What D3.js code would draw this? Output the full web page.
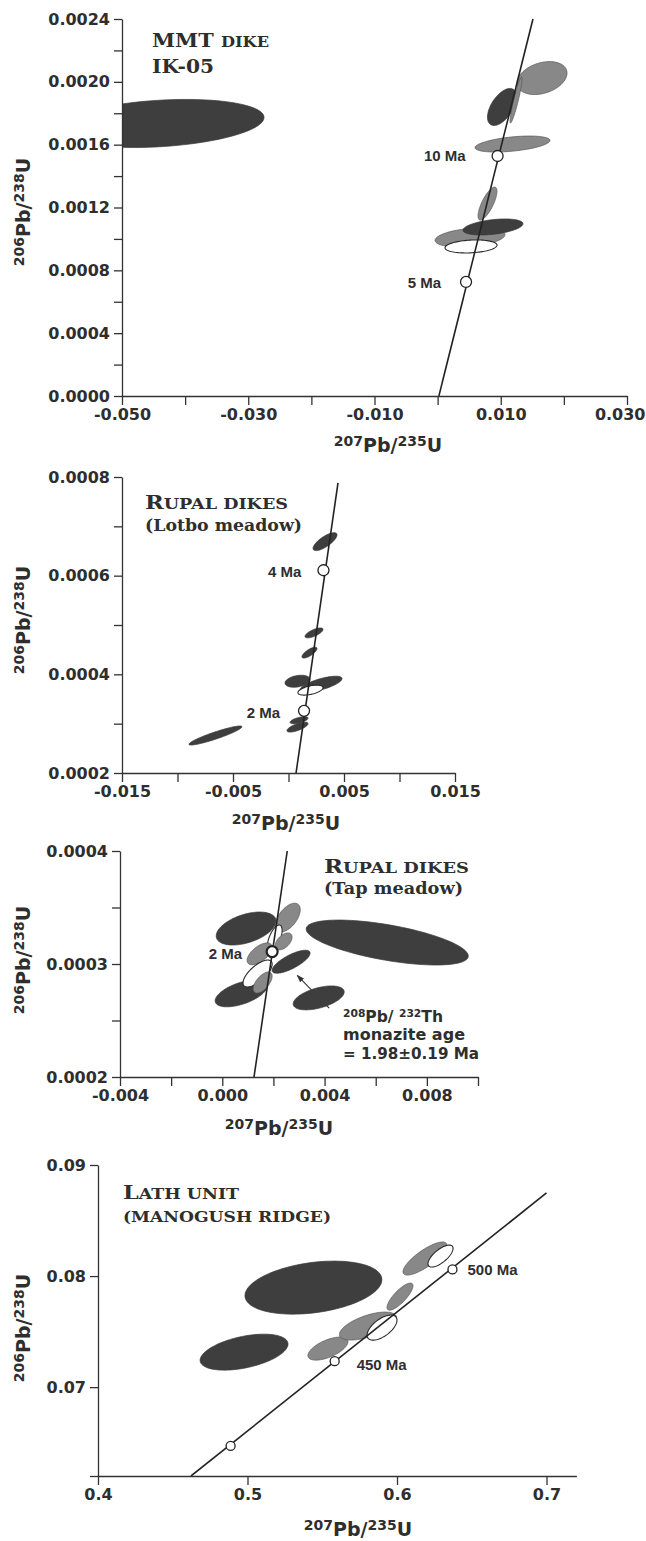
<!DOCTYPE html>
<html>
<head>
<meta charset="utf-8">
<script src="https://cdn.jsdelivr.net/npm/d3@7"></script>
<style>
  body { margin: 0; background: #fff; }
  svg text { fill: #2e2e2e; }
</style>
</head>
<body>
<svg id="chart" width="646" height="1541"></svg>
<script>
// ---- values ----
// error ellipses: [207Pb/235U, 206Pb/238U, half-width x, half-width y, rho, tone]
// tone: d = dark, g = grey, w = open

// MMT dike IK-05
const mmtEllipses = [
  [-0.044, 0.001735, 0.0165, 0.000153, 0.25, "d"],
  [0.01654, 0.002024, 0.00396, 0.000105, 0.3, "g"],
  [0.0102, 0.00184, 0.0023, 0.000118, 0.55, "d"],
  [0.01242, 0.001884, 0.00095, 0.000146, 0.92, "g"],
  [0.01186, 0.001604, 0.00594, 0.000051, 0.45, "g"],
  [0.0079, 0.001225, 0.0015, 0.000105, 0.75, "g"],
  [0.00513, 0.001009, 0.00554, 0.0000605, 0.3, "g"],
  [0.00877, 0.001076, 0.00475, 0.000051, 0.4, "d"],
  [0.00529, 0.000952, 0.00412, 0.0000414, 0.2, "w"]
];
const mmtConcordia = [[0.0002, 0], [0.0151, 0.0024]];
const mmtAges = [[0.0095, 0.001528], [0.0045, 0.000726]];
const mmtAgeLabels = ["10 Ma", "5 Ma"];
const mmtXTicks = [-0.05, -0.04, -0.03, -0.02, -0.01, 0, 0.01, 0.02, 0.03];
const mmtXLabels = ["-0.050", "", "-0.030", "", "-0.010", "", "0.010", "", "0.030"];
const mmtYTicks = [0, 0.0002, 0.0004, 0.0006, 0.0008, 0.001, 0.0012, 0.0014, 0.0016, 0.0018, 0.002, 0.0022, 0.0024];
const mmtYLabels = ["0.0000", "", "0.0004", "", "0.0008", "", "0.0012", "", "0.0016", "", "0.0020", "", "0.0024"];

// Rupal dikes, Lotbo meadow
const lotboEllipses = [
  [0.00329, 0.000669, 0.00108, 0.0000182, 0.75, "d"],
  [0.0023, 0.000484, 0.00081, 0.0000101, 0.7, "d"],
  [0.00189, 0.000444, 0.00068, 0.0000111, 0.75, "d"],
  [0.00081, 0.000386, 0.00113, 0.0000122, 0.3, "d"],
  [0.00293, 0.00038, 0.00189, 0.0000162, 0.7, "d"],
  [0.00198, 0.000368, 0.00113, 0.0000101, 0.5, "w"],
  [0.00095, 0.000307, 0.00081, 0.0000071, 0.6, "d"],
  [0.00081, 0.000293, 0.00095, 0.0000101, 0.7, "d"],
  [-0.00658, 0.000276, 0.00239, 0.0000193, 0.92, "d"]
];
const lotboConcordia = [[0.00068, 0.0002], [0.00446, 0.000788]];
const lotboAges = [[0.00315, 0.000611], [0.0014, 0.000326]];
const lotboAgeLabels = ["4 Ma", "2 Ma"];
const lotboXTicks = [-0.015, -0.01, -0.005, 0, 0.005, 0.01, 0.015];
const lotboXLabels = ["-0.015", "", "-0.005", "", "0.005", "", "0.015"];
const lotboYTicks = [0.0002, 0.0003, 0.0004, 0.0005, 0.0006, 0.0007, 0.0008];
const lotboYLabels = ["0.0002", "", "0.0004", "", "0.0006", "", "0.0008"];

// Rupal dikes, Tap meadow
const tapEllipses = [
  [0.000932, 0.0003314, 0.00117, 0.0000146, 0.45, "d"],
  [0.00645, 0.000319, 0.00317, 0.0000199, -0.6, "d"],
  [0.00377, 0.00027, 0.000998, 0.0000106, 0.5, "d"],
  [0.00074, 0.000274, 0.00102, 0.0000119, 0.55, "d"],
  [0.00256, 0.000341, 0.00049, 0.0000128, 0.55, "g"],
  [0.00205, 0.0003226, 0.00029, 0.0000119, 0.6, "w"],
  [0.00146, 0.000309, 0.00049, 0.0000097, 0.6, "g"],
  [0.0024, 0.00032, 0.00033, 0.0000075, 0.5, "g"],
  [0.00269, 0.000302, 0.000744, 0.0000102, 0.75, "d"],
  [0.00138, 0.0002916, 0.00057, 0.0000119, 0.7, "w"],
  [0.00158, 0.0002836, 0.00037, 0.0000093, 0.6, "g"]
];
const tapConcordia = [[0.00124, 0.0002], [0.00254, 0.0004]];
const tapAges = [[0.00195, 0.000311]];
const tapAgeLabels = ["2 Ma"];
const tapArrow = [[0.00418, 0.000261], [0.00293, 0.00029]];
const tapXTicks = [-0.004, -0.002, 0, 0.002, 0.004, 0.006, 0.008, 0.01];
const tapXLabels = ["-0.004", "", "0.000", "", "0.004", "", "0.008", ""];
const tapYTicks = [0.0002, 0.00025, 0.0003, 0.00035, 0.0004];
const tapYLabels = ["0.0002", "", "0.0003", "", "0.0004"];

// Lath unit, Manogush ridge
const lathEllipses = [
  [0.5441, 0.07896, 0.0458, 0.00239, 0.3, "d"],
  [0.4977, 0.07315, 0.0294, 0.00162, 0.45, "d"],
  [0.5538, 0.07347, 0.0134, 0.00104, 0.6, "g"],
  [0.5806, 0.0755, 0.0191, 0.00126, 0.6, "g"],
  [0.59, 0.07536, 0.01, 0.00113, 0.6, "w"],
  [0.602, 0.07815, 0.0087, 0.00122, 0.8, "g"],
  [0.6187, 0.08158, 0.0147, 0.00149, 0.8, "g"],
  [0.6291, 0.0818, 0.0084, 0.00099, 0.7, "w"]
];
const lathConcordia = [[0.4622, 0.062], [0.7, 0.08748]];
const lathAges = [[0.4887, 0.06471], [0.5583, 0.07234], [0.6371, 0.0806]];
const lathAgeLabels = ["", "450 Ma", "500 Ma"];
const lathXTicks = [0.4, 0.5, 0.6, 0.7];
const lathXLabels = ["0.4", "0.5", "0.6", "0.7"];
const lathYTicks = [0.062, 0.07, 0.08, 0.09];
const lathYLabels = ["", "0.07", "0.08", "0.09"];

// ---- drawing ----
const svg = d3.select("#chart");
const defs = svg.append("defs");
const toneFill = { d: "#3e3e3e", g: "#888888", w: "#fdfdfd" };
const toneStroke = { d: "#383838", g: "#585858", w: "#2a2a2a" };
const sansBold = "'DejaVu Sans', sans-serif";
const serif = "'DejaVu Serif', serif";

defs.append("marker")
  .attr("id", "arrowHead")
  .attr("viewBox", "0 0 10 10")
  .attr("refX", 9).attr("refY", 5)
  .attr("markerWidth", 7).attr("markerHeight", 7)
  .attr("orient", "auto")
  .append("path").attr("d", "M0,1.5L10,5L0,8.5Z").attr("fill", "#333");

function ellipsePath(e, x, y) {
  const [cx, cy, sx, sy, rho] = e;
  const k = Math.sqrt(1 - rho * rho);
  const pts = d3.range(90).map(i => {
    const t = i / 90 * 2 * Math.PI;
    return [x(cx + sx * Math.cos(t)), y(cy + sy * (rho * Math.cos(t) + k * Math.sin(t)))];
  });
  return d3.line().curve(d3.curveLinearClosed)(pts);
}

// text with mixed sizes (raised isotope numbers or small caps)
function richText(g, parts, opts) {
  const t = g.append("text")
    .attr("x", opts.x).attr("y", opts.y)
    .attr("font-family", opts.font)
    .attr("font-weight", "bold")
    .attr("text-anchor", opts.anchor || "start");
  if (opts.rotate) t.attr("transform", `rotate(-90,${opts.x},${opts.y})`);
  if (opts.width) t.attr("textLength", opts.width).attr("lengthAdjust", "spacingAndGlyphs");
  let shift = 0;
  parts.forEach(p => {
    const s = p[2] || 0;
    t.append("tspan").attr("font-size", p[1]).attr("dy", s - shift).text(p[0]);
    shift = s;
  });
  return t;
}

const ratioX = [["207", 14, -6], ["Pb/", 19, 0], ["235", 14, -6], ["U", 19, 0]];
const ratioY = [["206", 14, -6], ["Pb/", 19, 0], ["238", 14, -6], ["U", 19, 0]];

function panel(cfg) {
  const x = d3.scaleLinear().domain(cfg.xDomain).range(cfg.xRange);
  const y = d3.scaleLinear().domain(cfg.yDomain).range(cfg.yRange);
  const g = svg.append("g");

  // plot area clip: marks stop at the axes
  const clipId = "clip-" + cfg.id;
  defs.append("clipPath").attr("id", clipId)
    .append("rect")
    .attr("x", cfg.xRange[0]).attr("y", cfg.yRange[1] - 10)
    .attr("width", cfg.xRange[1] - cfg.xRange[0] + 20)
    .attr("height", cfg.yRange[0] - cfg.yRange[1] + 10);

  const plot = g.append("g").attr("clip-path", `url(#${clipId})`);

  if (cfg.arrow) {
    plot.append("line")
      .attr("x1", x(cfg.arrow[0][0])).attr("y1", y(cfg.arrow[0][1]))
      .attr("x2", x(cfg.arrow[1][0])).attr("y2", y(cfg.arrow[1][1]))
      .attr("stroke", "#333").attr("stroke-width", 1.1)
      .attr("marker-end", "url(#arrowHead)");
  }

  plot.selectAll("path.ell").data(cfg.ellipses).enter()
    .append("path").attr("class", "ell")
    .attr("d", d => ellipsePath(d, x, y))
    .attr("fill", d => toneFill[d[5]])
    .attr("stroke", d => toneStroke[d[5]])
    .attr("stroke-width", d => d[5] === "w" ? 1.1 : 0.7);

  plot.append("path")
    .attr("d", d3.line().x(d => x(d[0])).y(d => y(d[1]))(cfg.concordia))
    .attr("fill", "none").attr("stroke", "#222").attr("stroke-width", 1.6);

  plot.selectAll("circle.age").data(cfg.ages).enter()
    .append("circle").attr("class", "age")
    .attr("cx", d => x(d[0])).attr("cy", d => y(d[1]))
    .attr("r", cfg.markerR)
    .attr("fill", "#fff").attr("stroke", "#222").attr("stroke-width", cfg.markerW);

  g.selectAll("text.agelbl").data(cfg.ages).enter()
    .append("text").attr("class", "agelbl")
    .attr("x", (d, i) => x(d[0]) + cfg.labelOffsets[i][0])
    .attr("y", (d, i) => y(d[1]) + cfg.labelOffsets[i][1])
    .attr("text-anchor", (d, i) => cfg.labelOffsets[i][0] < 0 ? "end" : "start")
    .attr("font-family", "'Liberation Sans', Arial, sans-serif")
    .attr("font-weight", "bold").attr("font-size", 15)
    .text((d, i) => cfg.ageLabels[i]);

  const yAxis = d3.axisLeft(y).tickValues(cfg.yTicks)
    .tickFormat((d, i) => cfg.yLabels[i])
    .tickSize(8).tickSizeOuter(0).tickPadding(4);
  const xAxis = d3.axisBottom(x).tickValues(cfg.xTicks)
    .tickFormat((d, i) => cfg.xLabels[i])
    .tickSize(9).tickSizeOuter(0).tickPadding(4);

  const ya = g.append("g").attr("transform", `translate(${cfg.xRange[0]},0)`).call(yAxis);
  const xa = g.append("g").attr("transform", `translate(0,${cfg.yRange[0]})`).call(xAxis);
  [ya, xa].forEach(a => {
    a.selectAll("path, line").attr("stroke", "#333").attr("stroke-width", 1.3);
    a.selectAll("text").attr("font-family", sansBold).attr("font-weight", "bold")
      .attr("font-size", 16).attr("fill", "#333");
  });
  // keep the last x label inside the page edge
  if (cfg.lastLabelEnd) {
    xa.selectAll(".tick:last-of-type text").attr("text-anchor", "end").attr("x", cfg.lastLabelEnd);
  }

  // axis titles
  richText(g, ratioX, { x: cfg.xTitle[0], y: cfg.xTitle[1], font: sansBold, anchor: "middle" });
  richText(g, ratioY, { x: cfg.yTitle[0], y: cfg.yTitle[1], font: sansBold, anchor: "middle", rotate: true });

  // sample names
  cfg.titles.forEach(tt => richText(g, tt.parts, { x: tt.x, y: tt.y, font: serif, width: tt.w }));

  return { g, x, y };
}

panel({
  id: "mmt", xDomain: [-0.05, 0.03], xRange: [122, 627], yDomain: [0, 0.0024], yRange: [396, 19],
  ellipses: mmtEllipses, concordia: mmtConcordia, ages: mmtAges, ageLabels: mmtAgeLabels,
  labelOffsets: [[-32, 5], [-25, 6]], markerR: 5.5, markerW: 1.3, lastLabelEnd: 18,
  xTicks: mmtXTicks, xLabels: mmtXLabels, yTicks: mmtYTicks, yLabels: mmtYLabels,
  xTitle: [388, 452], yTitle: [30, 212],
  titles: [
    { parts: [["MMT ", 18], ["DIKE", 14]], x: 152, y: 47, w: 117 },
    { parts: [["IK-05", 18]], x: 152, y: 73, w: 62 }
  ]
});

panel({
  id: "lotbo", xDomain: [-0.015, 0.015], xRange: [122, 455], yDomain: [0.0002, 0.0008], yRange: [773, 477],
  ellipses: lotboEllipses, concordia: lotboConcordia, ages: lotboAges, ageLabels: lotboAgeLabels,
  labelOffsets: [[-22, 7], [-24, 7]], markerR: 5.5, markerW: 1.3,
  xTicks: lotboXTicks, xLabels: lotboXLabels, yTicks: lotboYTicks, yLabels: lotboYLabels,
  xTitle: [286, 830], yTitle: [30, 620],
  titles: [
    { parts: [["R", 18], ["UPAL DIKES", 14]], x: 145, y: 509, w: 143 },
    { parts: [["(Lotbo meadow)", 16]], x: 145, y: 531, w: 157 }
  ]
});

const tap = panel({
  id: "tap", xDomain: [-0.004, 0.010], xRange: [120, 478], yDomain: [0.0002, 0.0004], yRange: [1077, 851],
  ellipses: tapEllipses, concordia: tapConcordia, ages: tapAges, ageLabels: tapAgeLabels,
  labelOffsets: [[-30, 7]], markerR: 5.5, markerW: 2.2, arrow: tapArrow,
  xTicks: tapXTicks, xLabels: tapXLabels, yTicks: tapYTicks, yLabels: tapYLabels,
  xTitle: [279, 1135], yTitle: [30, 960],
  titles: [
    { parts: [["R", 18], ["UPAL DIKES", 14]], x: 324, y: 873, w: 145 },
    { parts: [["(Tap meadow)", 16]], x: 324, y: 894, w: 139 }
  ]
});

// monazite note
richText(tap.g, [["208", 11, -5], ["Pb/ ", 16, 0], ["232", 11, -5], ["Th", 16, 0]],
  { x: 343, y: 1022, font: sansBold, width: 100 });
richText(tap.g, [["monazite age", 16, 0]], { x: 343, y: 1040, font: sansBold, width: 122 });
richText(tap.g, [["= 1.98\u00b10.19 Ma", 16, 0]], { x: 343, y: 1059, font: sansBold, width: 136 });

panel({
  id: "lath", xDomain: [0.4, 0.72], xRange: [98, 576.4], yDomain: [0.062, 0.09], yRange: [1476, 1165],
  ellipses: lathEllipses, concordia: lathConcordia, ages: lathAges, ageLabels: lathAgeLabels,
  labelOffsets: [[14, 6], [22, 9], [15, 6]], markerR: 4.5, markerW: 1.3,
  xTicks: lathXTicks, xLabels: lathXLabels, yTicks: lathYTicks, yLabels: lathYLabels,
  xTitle: [358, 1536], yTitle: [30, 1328],
  titles: [
    { parts: [["L", 18], ["ATH UNIT", 14]], x: 123, y: 1199, w: 116 },
    { parts: [["(MANOGUSH RIDGE)", 14]], x: 123, y: 1222, w: 208 }
  ]
});
</script>
</body>
</html>
